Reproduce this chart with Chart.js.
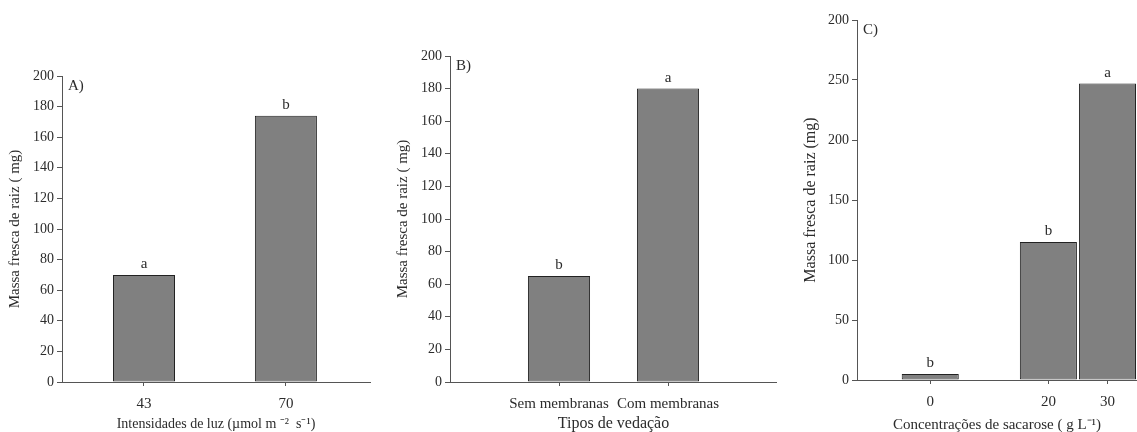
<!DOCTYPE html>
<html>
<head>
<meta charset="utf-8">
<script src="https://cdn.jsdelivr.net/npm/chart.js@4"></script>
<style>
  body { margin: 0; background: #fff; width: 1137px; height: 432px; position: relative; overflow: hidden; }
  canvas { position: absolute; top: 0; }
</style>
</head>
<body>
<canvas id="chartA" width="377" height="432" style="left:3px"></canvas>
<canvas id="chartB" width="386" height="432" style="left:391px"></canvas>
<canvas id="chartC" width="339" height="432" style="left:798px"></canvas>
<script>
// Panel A - light intensity
const xA = [43, 70];
const yA = [70, 174];
const lettersA = ['a', 'b'];

// Panel B - sealing type
const labelsB = ['Sem membranas', 'Com membranas'];
const xB = [1, 2];
const yB = [65, 180];
const lettersB = ['b', 'a'];

// Panel C - sucrose concentration
const xC = [0, 20, 30];
const yC = [5, 115, 247];
const lettersC = ['b', 'b', 'a'];
const yTickLabelsC = ['0', '50', '100', '150', '200', '250', '200'];

const FONT = 'Liberation Serif';
const TEXT = '#2b2b2b';
const AXIS = '#555';

// draws the significance letters above bars and the panel tag
const letterPlugin = {
    id: 'letters',
    afterDatasetsDraw(chart) {
        const ctx = chart.ctx;
        const opts = chart.options.plugins.letters;
        const meta = chart.getDatasetMeta(0);
        ctx.save();
        ctx.fillStyle = TEXT;
        ctx.font = '15px "' + FONT + '"';
        ctx.textAlign = 'center';
        ctx.textBaseline = 'bottom';
        meta.data.forEach((bar, i) => {
            ctx.fillText(opts.letters[i], bar.x, bar.y - 3);
        });
        ctx.textAlign = 'left';
        ctx.textBaseline = 'top';
        ctx.fillText(opts.tag, chart.chartArea.left + 6, chart.chartArea.top + 3);
        ctx.restore();
    }
};

function makePanel(id, p) {
    new Chart(document.getElementById(id).getContext('2d'), {
        type: 'bar',
        data: {
            datasets: [{
                data: p.x.map((v, i) => ({ x: v, y: p.y[i] })),
                backgroundColor: '#808080',
                borderColor: '#222',
                borderWidth: 1,
                borderSkipped: false,
                barPercentage: p.barPct,
                categoryPercentage: 1
            }]
        },
        options: {
            responsive: false,
            animation: false,
            layout: { padding: { top: p.padTop, right: p.padRight, left: 0, bottom: 0 } },
            plugins: {
                legend: { display: false },
                tooltip: { enabled: false },
                letters: { letters: p.letters, tag: p.tag }
            },
            scales: {
                x: {
                    type: 'linear',
                    offset: false,
                    min: p.xMin,
                    max: p.xMax,
                    afterBuildTicks: (s) => { s.ticks = p.x.map(v => ({ value: v })); },
                    afterFit: (s) => { s.height = p.xHeight; },
                    grid: { offset: false, drawOnChartArea: false, drawTicks: true, tickLength: 4, color: AXIS },
                    border: { display: true, color: AXIS, width: 1 },
                    ticks: {
                        color: TEXT,
                        padding: 9,
                        maxRotation: 0,
                        autoSkip: false,
                        font: { family: FONT, size: 15 },
                        callback: p.xLabel
                    },
                    title: {
                        display: true,
                        text: p.xTitle,
                        color: TEXT,
                        padding: { top: 0, bottom: p.xTitlePad },
                        font: { family: FONT, size: p.xTitleSize }
                    }
                },
                y: {
                    min: 0,
                    max: p.yMax,
                    afterFit: (s) => { s.width = 59; },
                    grid: { drawOnChartArea: false, drawTicks: true, tickLength: 5, color: AXIS },
                    border: { display: true, color: AXIS, width: 1 },
                    ticks: {
                        stepSize: p.yStep,
                        color: TEXT,
                        padding: 3,
                        font: { family: FONT, size: 14 },
                        callback: p.yLabel
                    },
                    title: {
                        display: true,
                        text: p.yTitle,
                        color: TEXT,
                        padding: { top: 3, bottom: 0 },
                        font: { family: FONT, size: p.yTitleSize }
                    }
                }
            }
        },
        plugins: [letterPlugin]
    });
}

makePanel('chartA', {
    x: xA, y: yA, letters: lettersA, tag: 'A)',
    xMin: 27.4, xMax: 86, barPct: 0.437,
    padTop: 76, padRight: 10, xHeight: 50,
    yMax: 200, yStep: 20,
    xLabel: (v) => String(v),
    yLabel: (v) => v,
    xTitle: 'Intensidades de luz (\u00b5mol m \u207b\u00b2  s\u207b\u00b9)',
    xTitleSize: 14, xTitlePad: -1,
    yTitle: 'Massa fresca de raiz ( mg)',
    yTitleSize: 15
});

makePanel('chartB', {
    x: xB, y: yB, letters: lettersB, tag: 'B)',
    xMin: 0, xMax: 3, barPct: 0.57,
    padTop: 56, padRight: 0, xHeight: 50,
    yMax: 200, yStep: 20,
    xLabel: (v) => labelsB[xB.indexOf(v)],
    yLabel: (v) => v,
    xTitle: 'Tipos de vedação',
    xTitleSize: 16, xTitlePad: -1,
    yTitle: 'Massa fresca de raiz ( mg)',
    yTitleSize: 15
});

makePanel('chartC', {
    x: xC, y: yC, letters: lettersC, tag: 'C)',
    xMin: -12.4, xMax: 35, barPct: 0.966,
    padTop: 20, padRight: 0, xHeight: 52,
    yMax: 300, yStep: 50,
    xLabel: (v) => String(v),
    yLabel: (v, i) => yTickLabelsC[i],
    xTitle: 'Concentrações de sacarose ( g L\u207b\u00b9)',
    xTitleSize: 15, xTitlePad: -2,
    yTitle: 'Massa fresca de raiz (mg)',
    yTitleSize: 16
});
</script>
</body>
</html>
